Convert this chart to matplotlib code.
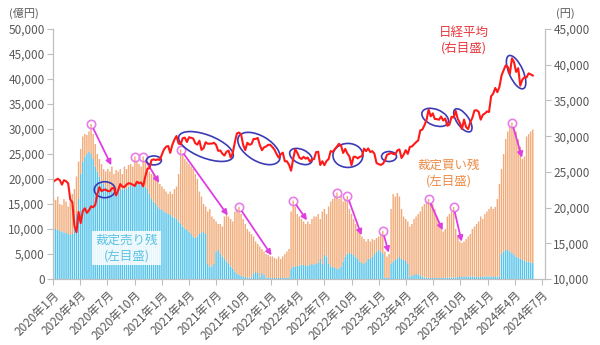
import numpy as np
import pandas as pd
import matplotlib
matplotlib.use('Agg')
import matplotlib.pyplot as plt
import matplotlib.dates as mdates
import matplotlib.transforms as mtransforms
from matplotlib.patches import Ellipse

plt.rcParams['font.family'] = ['Noto Sans CJK JP', 'DejaVu Sans']

# weekly (Friday) figures, 2020-01-03 .. 2024-05-31, one row per month
# arbitrage sell balance (億円)
sell = [
    10200, 10000, 9800, 9600, 9500,
    9300, 9200, 9000, 8800,
    9000, 10500, 13000, 16000,
    21000, 23500, 24500, 25000,
    25500, 25000, 24000, 22500, 21500,
    20500, 19500, 19000, 18500,
    18000, 17500, 17800, 17300, 17500,
    17500, 18000, 17800, 18200,
    18000, 18500, 18800, 18500,
    19000, 19300, 19000, 19500, 19000,
    18500, 18000, 17000, 16000,
    15500, 15000, 14500, 14000,
    # 2021
    13800, 13500, 13200, 13000, 12800,
    12500, 12300, 12000, 11500,
    11000, 10500, 10000, 9800,
    9500, 9000, 8500, 8200, 8500,
    9000, 9200, 9500, 9000,
    3000, 2500, 2500, 3000,
    5500, 5800, 5000, 4500, 4000,
    3500, 3000, 2500, 2000,
    1500, 1000, 800, 600,
    500, 400, 300, 300, 300,
    1000, 1500, 1200, 500,
    1200, 800, 300, 200, 200,
    # 2022
    200, 200, 200, 200,
    200, 200, 200, 300,
    300, 2000, 2500, 2400,
    2600, 2700, 2800, 2800, 2600,
    2700, 2800, 3000, 2900,
    3000, 3200, 4000, 3000,
    4800, 4500, 3000, 2500, 2400,
    2200, 2000, 2100, 2500,
    3500, 4500, 5000, 5200, 5000,
    4800, 4500, 4000, 3500,
    3200, 3000, 3500, 4000,
    4000, 4500, 5000, 5500, 5800,
    # 2023
    5500, 5000, 300, 200,
    200, 3000, 3500, 3800,
    4000, 4400, 4000, 3800, 3600,
    3000, 500, 600, 800,
    1000, 900, 700, 500,
    300, 300, 200, 200, 200,
    200, 200, 200, 200,
    200, 300, 300, 300,
    300, 300, 300, 400, 400,
    400, 400, 500, 500,
    500, 500, 500, 400,
    400, 400, 500, 500, 500,
    # 2024
    500, 500, 400, 400,
    500, 500, 5000, 5500,
    5800, 5800, 5500, 5200, 4800,
    4500, 4300, 4000, 3800,
    3600, 3500, 3400, 3300, 3200,
]

# arbitrage buy balance (億円)
buy = [
    6000, 5800, 6700, 5400, 5300,
    6700, 6300, 5500, 6700,
    8000, 7500, 7500, 7500,
    5000, 5000, 4500, 3800,
    4000, 6000, 5000, 4500, 3500,
    3500, 3500, 3000, 3000,
    4000, 4000, 4700, 3700, 4300,
    4000, 4000, 3200, 4300,
    4000, 4300, 4200, 4000,
    5500, 4200, 4000, 3000, 5500,
    5000, 4500, 4500, 5000,
    5500, 5500, 5000, 5000,
    # 2021
    4700, 4500, 4300, 4000, 4700,
    4500, 5700, 6500, 9500,
    14900, 14500, 14000, 13700,
    13500, 13500, 13500, 12800, 11500,
    8500, 7300, 5500, 5500,
    10500, 11500, 10000, 9000,
    6000, 5200, 6000, 6000, 8500,
    9500, 9500, 9500, 9500,
    12000, 13000, 13600, 12400,
    11500, 10600, 9700, 9200, 8700,
    7500, 6000, 5800, 6000,
    4800, 4700, 4700, 4600, 4300,
    # 2022
    4300, 4000, 3800, 4300,
    3800, 4300, 4800, 5200,
    5700, 11500, 13200, 12100,
    10400, 9800, 9200, 8700, 8400,
    8800, 8200, 9000, 9600,
    9500, 9800, 8000, 10500,
    9200, 8500, 11500, 13000, 13600,
    14300, 15300, 13900, 14100,
    12000, 11500, 11600, 8800, 8000,
    7200, 6500, 6000, 6000,
    5300, 5000, 4000, 4000,
    3500, 3500, 2800, 2700, 2700,
    # 2023
    3500, 4600, 5200, 4300,
    4800, 11000, 13500, 12700,
    13200, 12100, 10000, 8700, 8400,
    8500, 10000, 10400, 11200,
    11500, 12100, 12800, 14000,
    14700, 15200, 15800, 15000, 14800,
    13800, 12300, 11300, 9800,
    9300, 9700, 12200, 12700,
    13200, 14100, 9700, 8100, 7100,
    6800, 7100, 7500, 8000,
    8500, 9500, 10000, 10600,
    11100, 12100, 11500, 12500, 13000,
    # 2024
    13500, 14000, 13600, 14000,
    15500, 18500, 17000, 19500,
    22200, 23700, 25000, 26100, 25200,
    25000, 23700, 22500, 20200,
    20900, 25000, 25600, 26200, 26700,
]

# Nikkei 225 weekly close (円)
nikkei = [
    23660, 23850, 24040, 23830, 23210,
    23830, 23690, 23390, 21140,
    20750, 17430, 16550, 19390,
    17820, 19500, 19900, 19260,
    19620, 20180, 20040, 20390, 21880,
    22860, 22310, 22480, 22510,
    22310, 22290, 22700, 22750, 21710,
    22420, 23290, 22920, 22880,
    23210, 23410, 23360, 23200,
    23030, 23620, 23410, 23520, 22980,
    24330, 25390, 25530, 26640,
    26750, 26650, 26760, 26660,
    # 2021
    27440, 28140, 28520, 28630, 27660,
    28780, 29520, 30020, 28970,
    28860, 29720, 29790, 29180,
    29850, 29770, 29680, 29020, 28810,
    29360, 28080, 28320, 29150,
    28940, 28950, 28960, 29070,
    28780, 27940, 28000, 27550, 27280,
    27820, 27980, 27010, 27640,
    29130, 30380, 30500, 30250,
    28770, 28050, 29070, 28800, 28890,
    29610, 29610, 29750, 28750,
    28030, 28440, 28550, 28780, 28790,
    # 2022
    28480, 28120, 27520, 27000,
    27440, 27700, 26480, 26480,
    25990, 25160, 26830, 28150,
    27670, 26990, 26800, 27110, 26850,
    27000, 26430, 26740, 26780,
    27760, 27820, 25960, 26490,
    25940, 26520, 26790, 27910, 27800,
    28180, 28550, 28930, 28640,
    27650, 28210, 27570, 27150, 25940,
    27120, 27090, 26890, 27110,
    27200, 28260, 27900, 28280,
    27780, 27900, 27530, 26240, 26090,
    # 2023
    25970, 26120, 26550, 27380,
    27510, 27670, 27510, 27450,
    28000, 28140, 26940, 27390, 28040,
    27520, 28490, 28560, 28860,
    29160, 29390, 30810, 30920,
    31520, 32270, 33710, 32780, 33190,
    32390, 32390, 32300, 32760,
    32190, 32470, 31450, 31620,
    32710, 32610, 33530, 32400, 31860,
    30990, 32320, 31260, 30990,
    31950, 32570, 33590, 33630,
    33430, 32310, 32970, 33170, 33460,
    # 2024
    33380, 35580, 35960, 36750,
    36160, 36900, 38490, 39230,
    39910, 39690, 38710, 40890, 40370,
    38990, 39520, 37070, 37930,
    38240, 38230, 38790, 38650, 38490,
]

# peaks of the buy+sell total (week index) and where the fall ends
peak_weeks = [18, 39, 43, 61, 89, 115, 136, 141, 158, 180, 192, 220]
falls = [(18, 28), (43, 51), (61, 84), (89, 105), (115, 122), (141, 148),
         (158, 161), (180, 187), (192, 196), (220, 225)]

# choppy stretches of the index: (centre date, level, width px, height px, angle)
rings = [
    ('2020-06-23', 22500, 21, 16, 0),
    ('2020-12-05', 26600, 15, 9, 0),
    ('2021-05-29', 28550, 58, 23, -21),
    ('2021-11-23', 28270, 47, 25, -31),
    ('2022-04-13', 27150, 24, 14, -25),
    ('2022-09-18', 27300, 30, 24, 0),
    ('2023-02-03', 27150, 15, 10, 0),
    ('2023-07-08', 32630, 28, 16, -22),
    ('2023-10-09', 32210, 27, 12, -55),
    ('2024-04-05', 38960, 36, 14, -66),
]

weeks = pd.date_range('2020-01-03', periods=len(sell), freq='W-FRI')
total = np.array(sell) + np.array(buy)

ORANGE = '#f2ab78'
BLUE = '#55c3ea'
RED = '#ff1a1a'
GREY = '#595959'
AXIS = '#bfbfbf'

fig = plt.figure(figsize=(6, 3.45), dpi=100)
ax = fig.add_axes([0.0883, 0.1913, 0.82, 0.7246])
ax2 = ax.twinx()

ax.bar(weeks, sell, width=4.8, color=BLUE, linewidth=0, snap=False)
ax.bar(weeks, buy, bottom=sell, width=4.8, color=ORANGE, linewidth=0, snap=False)
ax2.plot(weeks, nikkei, color=RED, lw=1.5)

ax.set_xlim(pd.Timestamp('2020-01-01'), pd.Timestamp('2024-07-11'))
ax.set_ylim(0, 50000)
ax2.set_ylim(10000, 45000)

ax.set_yticks(range(0, 50001, 5000))
ax.set_yticklabels([f'{v:,}' for v in range(0, 50001, 5000)])
ax2.set_yticks(range(10000, 45001, 5000))
ax2.set_yticklabels([f'{v:,}' for v in range(10000, 45001, 5000)])

quarters = pd.date_range('2020-01-01', '2024-07-01', freq='QS')
ax.set_xticks(quarters)
ax.set_xticklabels([f'{d.year}年{d.month}月' for d in quarters],
                   rotation=45, ha='right', rotation_mode='anchor')

for a in (ax, ax2):
    a.spines['top'].set_visible(False)
    for side in ('left', 'right', 'bottom'):
        a.spines[side].set_color(AXIS)
    a.tick_params(axis='both', color=AXIS, labelcolor=GREY, labelsize=8.5,
                  length=4, width=0.8, pad=2)
ax.tick_params(axis='x', pad=3)

# pink markers on the peaks and arrows down to the lows
for i in peak_weeks:
    ax.plot(weeks[i], total[i], marker='o', ms=6, mfc='none',
            mec='#e87ee8', mew=1.2, zorder=5)
for i, j in falls:
    ax.annotate('', xy=(weeks[j], total[j]), xytext=(weeks[i], total[i]),
                arrowprops=dict(arrowstyle='-|>', color='#e03ee0', lw=1.3,
                                shrinkA=4, shrinkB=1, mutation_scale=8),
                zorder=5)

# blue rings round the index line
for when, level, w, h, ang in rings:
    tr = fig.dpi_scale_trans + mtransforms.ScaledTranslation(
        mdates.date2num(pd.Timestamp(when)), level, ax2.transData)
    ax2.add_patch(Ellipse((0, 0), w / 100, h / 100, angle=ang, transform=tr,
                          fill=False, ec='#3b3bb5', lw=1.2, clip_on=False))

ax.text(0.835, 0.956, '日経平均\n(右目盛)', transform=ax.transAxes,
        ha='center', va='center', color='#e8383d', fontsize=9, linespacing=1.25)
ax.text(0.805, 0.424, '裁定買い残\n(左目盛)', transform=ax.transAxes,
        ha='center', va='center', color='#ed8c48', fontsize=9, linespacing=1.25)
ax.text(0.150, 0.124, '裁定売り残\n(左目盛)', transform=ax.transAxes,
        ha='center', va='center', color='#5bc3e6', fontsize=9, linespacing=1.25,
        bbox=dict(boxstyle='square,pad=0.25', fc='white', ec='none', alpha=0.85),
        zorder=6)

fig.text(0.040, 0.962, '(億円)', ha='center', va='center', color=GREY, fontsize=8)
fig.text(0.943, 0.962, '(円)', ha='center', va='center', color=GREY, fontsize=8)

fig.savefig('out.png', dpi=100)
